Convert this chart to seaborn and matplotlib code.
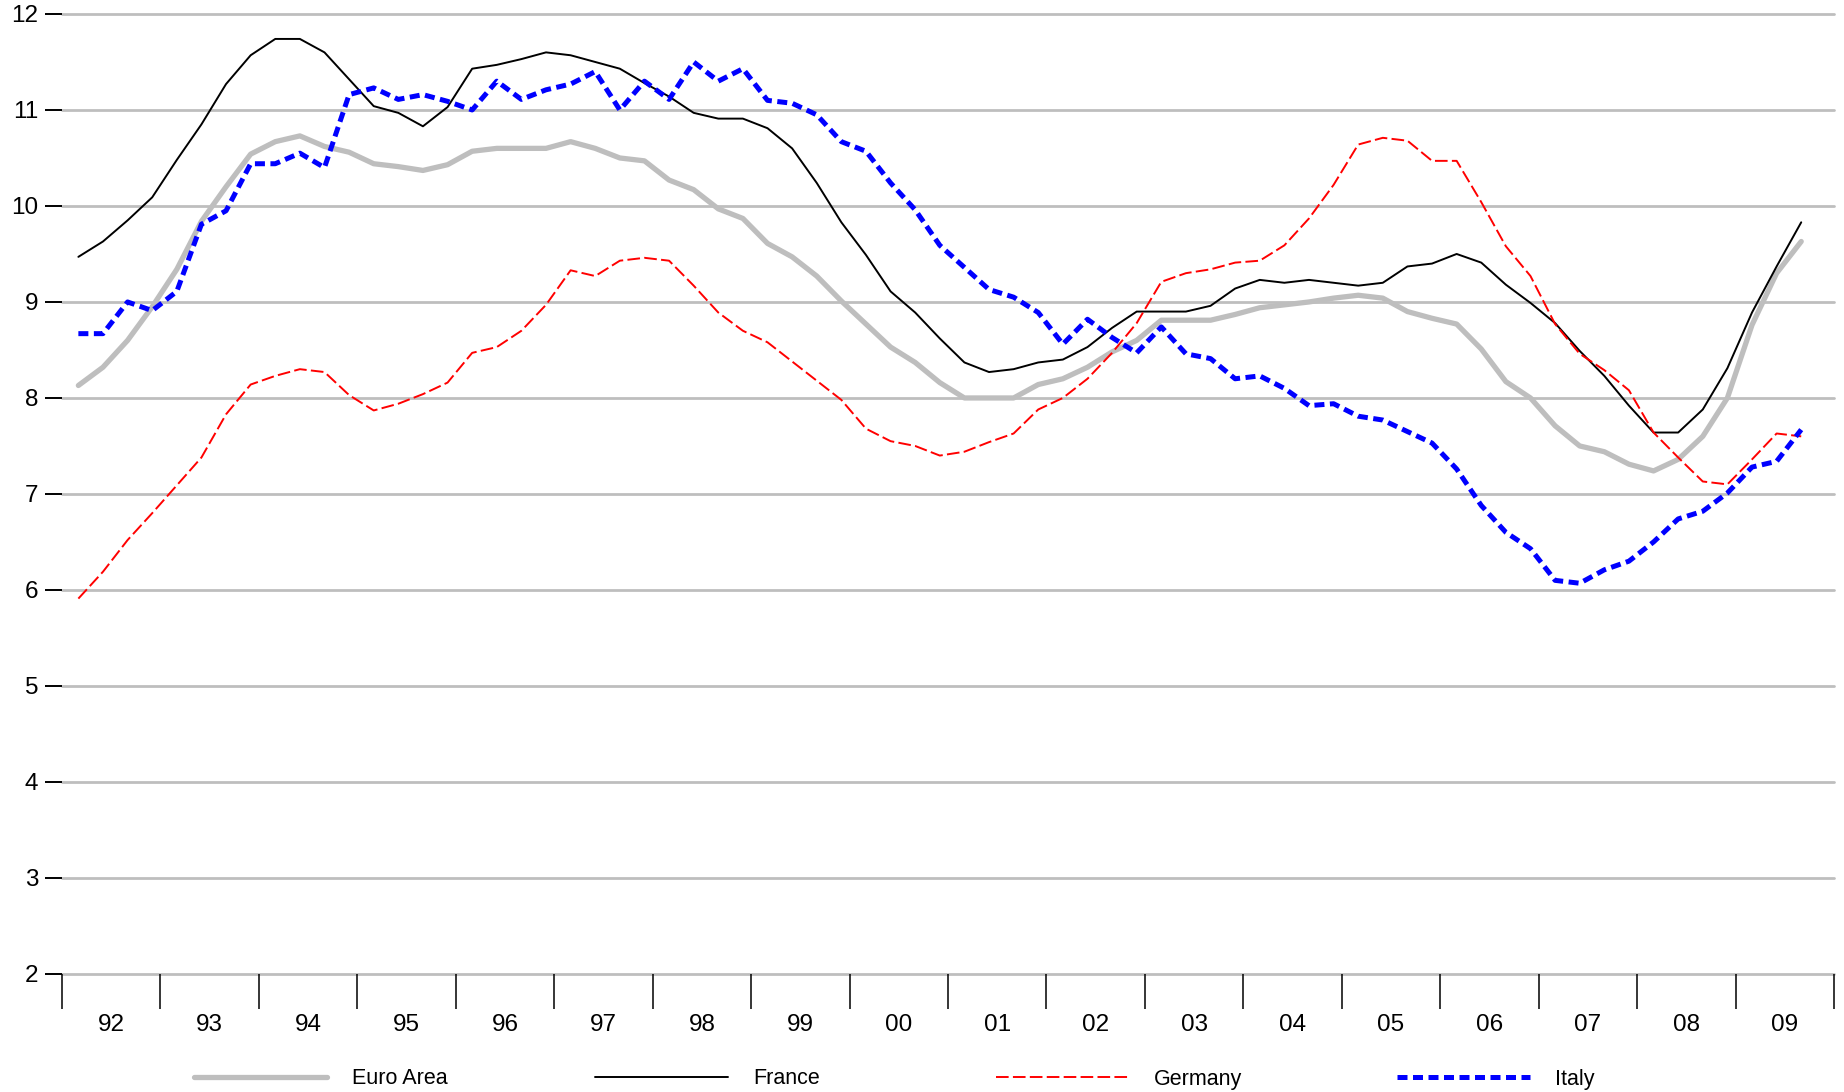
import pandas as pd
import numpy as np
import matplotlib
matplotlib.use('Agg')
import matplotlib.pyplot as plt
import seaborn as sns

# quarterly observations, 1992Q1 - 2009Q3
quarters = pd.period_range('1992Q1', '2009Q3', freq='Q')

euro_area = [8.13, 8.32, 8.6, 8.95, 9.34, 9.84, 10.2, 10.54, 10.67, 10.73,
             10.62, 10.56, 10.44, 10.41, 10.37, 10.43, 10.57, 10.6, 10.6, 10.6,
             10.67, 10.6, 10.5, 10.47, 10.27, 10.17, 9.97, 9.87, 9.61, 9.47,
             9.27, 9.01, 8.77, 8.53, 8.37, 8.16, 8.0, 8.0, 8.0, 8.14,
             8.2, 8.32, 8.48, 8.6, 8.81, 8.81, 8.81, 8.87, 8.94, 8.97,
             9.0, 9.04, 9.07, 9.04, 8.9, 8.83, 8.77, 8.51, 8.17, 8.0,
             7.71, 7.5, 7.44, 7.31, 7.24, 7.36, 7.6, 8.0, 8.76, 9.3, 9.63]

france = [9.47, 9.63, 9.85, 10.09, 10.48, 10.85, 11.27, 11.57, 11.74, 11.74,
          11.6, 11.32, 11.04, 10.97, 10.83, 11.03, 11.43, 11.47, 11.53, 11.6,
          11.57, 11.5, 11.43, 11.28, 11.14, 10.97, 10.91, 10.91, 10.81, 10.6,
          10.24, 9.83, 9.49, 9.11, 8.89, 8.62, 8.37, 8.27, 8.3, 8.37,
          8.4, 8.53, 8.73, 8.9, 8.9, 8.9, 8.96, 9.14, 9.23, 9.2,
          9.23, 9.2, 9.17, 9.2, 9.37, 9.4, 9.5, 9.41, 9.18, 8.99,
          8.78, 8.49, 8.23, 7.92, 7.64, 7.64, 7.88, 8.31, 8.89, 9.37, 9.83]

germany = [5.91, 6.19, 6.52, 6.8, 7.09, 7.38, 7.83, 8.14, 8.23, 8.3,
           8.27, 8.03, 7.87, 7.94, 8.04, 8.16, 8.47, 8.53, 8.7, 8.97,
           9.33, 9.27, 9.43, 9.46, 9.43, 9.17, 8.89, 8.7, 8.58, 8.38,
           8.18, 7.98, 7.68, 7.55, 7.5, 7.4, 7.44, 7.54, 7.63, 7.88,
           8.0, 8.2, 8.47, 8.78, 9.21, 9.3, 9.34, 9.41, 9.43, 9.59,
           9.87, 10.22, 10.64, 10.71, 10.68, 10.47, 10.47, 10.04, 9.58, 9.27,
           8.77, 8.46, 8.29, 8.08, 7.64, 7.38, 7.13, 7.1, 7.36, 7.63, 7.6]

italy = [8.67, 8.67, 9.0, 8.91, 9.11, 9.81, 9.95, 10.44, 10.44, 10.55,
         10.4, 11.16, 11.23, 11.11, 11.16, 11.09, 11.0, 11.3, 11.11, 11.21,
         11.27, 11.4, 11.0, 11.3, 11.11, 11.5, 11.3, 11.43, 11.1, 11.07,
         10.95, 10.67, 10.57, 10.24, 9.96, 9.59, 9.36, 9.13, 9.05, 8.89,
         8.56, 8.82, 8.63, 8.47, 8.74, 8.46, 8.41, 8.2, 8.23, 8.1,
         7.92, 7.94, 7.81, 7.77, 7.65, 7.53, 7.26, 6.88, 6.6, 6.43,
         6.1, 6.07, 6.21, 6.3, 6.5, 6.74, 6.82, 7.01, 7.28, 7.34, 7.67]

series_names = ['Euro Area', 'France', 'Germany', 'Italy']
year_labels = ['92', '93', '94', '95', '96', '97', '98', '99', '00',
               '01', '02', '03', '04', '05', '06', '07', '08', '09']

# place each quarter at its last month
xs = np.array([p.year + (p.end_time.month - 1) / 12 for p in quarters])

sns.set_theme(style='white')
plt.rcParams['font.family'] = ['Liberation Sans', 'DejaVu Sans']

fig = plt.figure(figsize=(18.44, 10.92), dpi=100)
ax = fig.add_axes([0.0336, 0.1081, 0.961, 0.8791])

# horizontal grid
for yv in range(2, 13):
    ax.axhline(yv, color='#BEBEBE', lw=2.0, zorder=0, clip_on=False)

styles = {
    'Euro Area': dict(color='#BEBEBE', linewidth=3.8, linestyle='-'),
    'France': dict(color='black', linewidth=1.4, linestyle='-'),
    'Germany': dict(color='#FF0000', linewidth=1.4, linestyle=(0, (6.5, 2.2))),
    'Italy': dict(color='#0000FF', linewidth=3.6, linestyle=(0, (2.0, 1.1))),
}
data = {'Euro Area': euro_area, 'France': france, 'Germany': germany, 'Italy': italy}

handles = []
for name in series_names:
    sns.lineplot(x=xs, y=data[name], ax=ax, legend=False, **styles[name])
    line = ax.get_lines()[-1]
    line.set_dash_capstyle('butt')
    line.set_solid_joinstyle('round')
    handles.append(line)

ax.set_xlim(1992, 2010)
ax.set_ylim(2, 12)
for s in ax.spines.values():
    s.set_visible(False)

# y ticks
ax.set_yticks(range(2, 13))
ax.tick_params(axis='y', which='major', left=True, direction='out', length=12,
               width=1.4, color='black', pad=5, labelsize=17.5, labelcolor='black')

# x ticks: marks at year boundaries, labels in the middle of each year
years = np.arange(1992, 2011)
ax.set_xticks(years)
ax.set_xticklabels([''] * len(years))
ax.set_xticks(years[:-1] + 0.5, minor=True)
ax.set_xticklabels(year_labels, minor=True)
ax.tick_params(axis='x', which='major', bottom=True, direction='out', length=25,
               width=1.1, color='black')
ax.tick_params(axis='x', which='minor', bottom=True, length=0, pad=29,
               labelsize=17.5, labelcolor='black')

# legend, one entry per slot across the bottom
legend_x = [194, 595, 996, 1397]
for h, name, lx in zip(handles, series_names, legend_x):
    fig.legend(handles=[h], labels=[name], loc='center left',
               bbox_to_anchor=(lx / 1844, 13 / 1092), frameon=False,
               handlelength=6.2, handletextpad=1.15, borderpad=0,
               borderaxespad=0, fontsize=15.5, labelcolor='black')

fig.savefig('out.png', dpi=100)
